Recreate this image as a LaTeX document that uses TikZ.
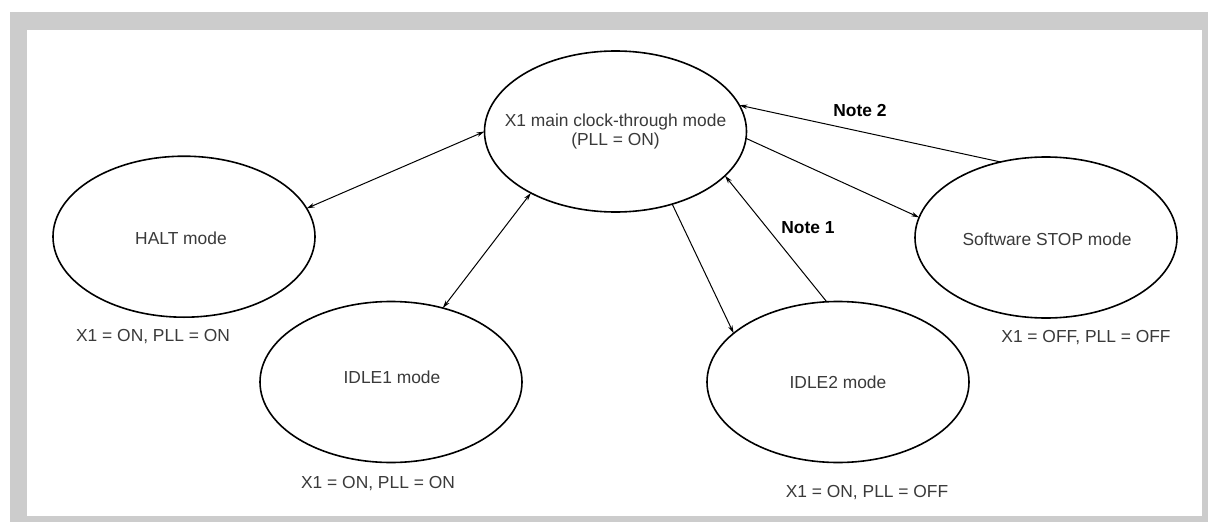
\documentclass[tikz,border=0pt]{standalone}
\usepackage{fontspec}
\setmainfont{Liberation Sans}
\usetikzlibrary{arrows.meta,shapes.geometric}
\definecolor{framegray}{HTML}{CCCCCC}
\definecolor{txtgray}{HTML}{3A3A3A}
\tikzset{
  mode/.style={ellipse,draw=black,line width=1.6pt,minimum width=262pt,minimum height=161pt,inner sep=0pt,outer sep=0pt},
  modetext/.style={text=txtgray,font=\fontsize{17.4}{19}\selectfont,align=center,inner sep=0pt},
  cond/.style={text=txtgray,font=\fontsize{17.4}{20}\selectfont,inner sep=0pt},
  notelbl/.style={text=black,font=\fontsize{17.4}{20}\selectfont\bfseries,inner sep=0pt},
  conn/.style={line width=1pt,-{Stealth[length=8pt,width=4.5pt]}},
  biconn/.style={line width=1pt,{Stealth[length=8pt,width=4.5pt]}-{Stealth[length=8pt,width=4.5pt]}}
}
\begin{document}
\begin{tikzpicture}[x=1pt,y=-1pt]
\useasboundingbox (0,0) rectangle (1208,522);
\fill[white] (0,0) rectangle (1208,522);
\fill[framegray] (10,12) rectangle (1208,522);
\fill[white] (27,30) rectangle (1202,516);

\node[mode] (main) at (615.5,131.5) {};
\node[mode] (halt) at (184,236.7) {};
\node[mode] (idle1) at (391,382) {};
\node[mode] (idle2) at (838,382) {};
\node[mode] (stop) at (1046,237.5) {};

\node[modetext] (tmain) at (main.center) {X1 main clock-through mode\\(PLL = ON)};
\node[modetext] (thalt) at (181,238) {HALT mode};
\node[modetext] (tidle1) at (392,377) {IDLE1 mode};
\node[modetext] (tidle2) at (838,382) {IDLE2 mode};
\node[modetext] (tstop) at (1047,239) {Software STOP mode};

\node[cond] (lhalt) at (153,337) {X1 = ON, PLL = ON};
\node[cond] (lidle1) at (378,484) {X1 = ON, PLL = ON};
\node[cond] (lidle2) at (867,493) {X1 = ON, PLL = OFF};
\node[cond] (lstop) at (1086,338) {X1 = OFF, PLL = OFF};

\node[notelbl] (n1) at (808,228) {Note 1};
\node[notelbl] (n2) at (860,111) {Note 2};

\draw[biconn] (halt.13.6) -- (main.180.6);
\draw[biconn] (idle1.55.1) -- (main.216.6);
\draw[conn] (main.308.3) -- (idle2.155.4);
\draw[conn] (idle2.98.5) -- (main.338.9);
\draw[conn] (main.357.6) -- (stop.171.4);
\draw[conn] (stop.121.4) -- (main.12);
\end{tikzpicture}
\end{document}
